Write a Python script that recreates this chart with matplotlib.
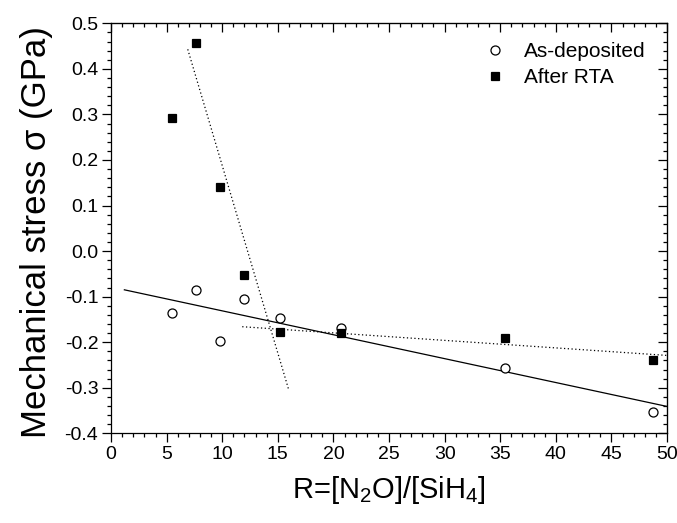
import matplotlib
matplotlib.use("Agg")
import matplotlib.pyplot as plt
from matplotlib.ticker import MultipleLocator, FormatStrFormatter

plt.rcParams['font.family'] = ['Liberation Sans', 'DejaVu Sans']
plt.rcParams['mathtext.fontset'] = 'custom'
plt.rcParams['mathtext.rm'] = 'Liberation Sans'
plt.rcParams['mathtext.it'] = 'Liberation Sans:italic'
plt.rcParams['axes.unicode_minus'] = False

# data
ratio = [5.5, 7.6, 9.8, 12.0, 15.2, 20.7, 35.4, 48.7]
stress_dep = [-0.135, -0.086, -0.197, -0.106, -0.147, -0.168, -0.256, -0.353]
stress_rta = [0.293, 0.457, 0.141, -0.052, -0.178, -0.179, -0.191, -0.238]

fit_dep_x = [1.2, 50.0]
fit_dep_y = [-0.085, -0.341]
fit_rta1_x = [6.9, 15.95]
fit_rta1_y = [0.443, -0.302]
fit_rta2_x = [11.8, 50.0]
fit_rta2_y = [-0.166, -0.229]

fig = plt.figure(figsize=(6.77, 5.23), dpi=100)
ax = fig.add_axes([0.164, 0.1715, 0.8212, 0.7839])

ax.plot(fit_dep_x, fit_dep_y, '-', color='black', lw=0.9)
ax.plot(fit_rta1_x, fit_rta1_y, linestyle=(0, (1, 2)), color='black', lw=0.9)
ax.plot(fit_rta2_x, fit_rta2_y, linestyle=(0, (1, 2)), color='black', lw=0.9)

ax.plot(ratio, stress_dep, 'o', ms=6.5, mfc='white', mec='black', mew=0.9,
        label='As-deposited', zorder=3)
ax.plot(ratio, stress_rta, 's', ms=6, mfc='black', mec='black', mew=0.9,
        label='After RTA', zorder=4)

ax.set_xlim(0, 50)
ax.set_ylim(-0.4, 0.5)
ax.xaxis.set_major_locator(MultipleLocator(5))
ax.xaxis.set_minor_locator(MultipleLocator(1))
ax.yaxis.set_major_locator(MultipleLocator(0.1))
ax.yaxis.set_minor_locator(MultipleLocator(0.02))
ax.yaxis.set_major_formatter(FormatStrFormatter('%.1f'))

ax.tick_params(which='major', direction='out', length=6.2, width=0.9,
               labelsize=14, pad=3)
ax.tick_params(which='minor', direction='out', length=3, width=0.9)

for sp in ax.spines.values():
    sp.set_linewidth(0.9)

# top and right inward ticks
top = ax.secondary_xaxis('top')
top.xaxis.set_major_locator(MultipleLocator(5))
top.xaxis.set_minor_locator(MultipleLocator(1))
top.tick_params(which='major', direction='in', length=6.2, width=0.9, labeltop=False)
top.tick_params(which='minor', direction='in', length=3, width=0.9)
right = ax.secondary_yaxis('right')
right.yaxis.set_major_locator(MultipleLocator(0.1))
right.yaxis.set_minor_locator(MultipleLocator(0.02))
right.tick_params(which='major', direction='in', length=6.2, width=0.9, labelright=False)
right.tick_params(which='minor', direction='in', length=3, width=0.9)

ax.set_xlabel(r'R=[N$_2$O]/[SiH$_4$]', fontsize=21, labelpad=8)
ax.set_ylabel('Mechanical stress σ (GPa)', fontsize=25)
ax.yaxis.set_label_coords(-0.105, 0.49)

ax.legend(loc='upper right', frameon=False, fontsize=15, handlelength=1.0,
          handletextpad=0.9, borderaxespad=0.5, labelspacing=0.35,
          bbox_to_anchor=(0.995, 1.0))

fig.savefig('out.png', dpi=100)
